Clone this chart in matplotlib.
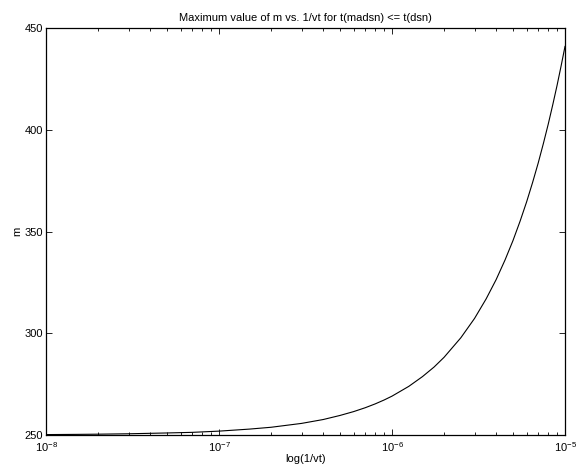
import matplotlib.pyplot as plt
import numpy as np

plt.rcParams['font.family'] = ['Liberation Sans', 'DejaVu Sans']
plt.rcParams['mathtext.fontset'] = 'custom'
plt.rcParams['mathtext.rm'] = 'Liberation Sans'

# 1/vt values and the maximum m
inv_vt = [1e-8, 1.5e-8, 2e-8, 3e-8, 5e-8, 7e-8, 1e-7, 1.5e-7, 2e-7, 3e-7,
          4e-7, 5e-7, 6e-7, 7e-7, 8e-7, 9e-7, 1e-6, 1.25e-6, 1.5e-6, 1.75e-6,
          2e-6, 2.5e-6, 3e-6, 3.5e-6, 4e-6, 4.5e-6, 5e-6, 5.5e-6, 6e-6,
          6.5e-6, 7e-6, 7.5e-6, 8e-6, 8.5e-6, 9e-6, 9.5e-6, 1e-5]
m_max = [250.2, 250.3, 250.4, 250.6, 251.0, 251.3, 251.9, 252.9, 253.8, 255.7,
         257.6, 259.6, 261.5, 263.4, 265.3, 267.2, 269.1, 273.9, 278.7, 283.4,
         288.2, 297.8, 307.3, 316.9, 326.4, 336.0, 345.5, 355.1, 364.6,
         374.2, 383.7, 393.3, 402.8, 412.4, 421.9, 431.5, 441.0]

y_ticks = [250, 300, 350, 400, 450]

fig = plt.figure(figsize=(5.76, 4.72), dpi=100)
ax = fig.add_axes([0.0799, 0.0784, 0.901, 0.862])

ax.plot(inv_vt, m_max, color='black', linewidth=0.8)
ax.set_xscale('log')
ax.set_xlim(1e-8, 1e-5)
ax.set_ylim(250, 450)
ax.set_yticks(y_ticks)

ax.tick_params(which='both', direction='in', top=True, right=True,
               labelsize=8, width=0.6, pad=2)
ax.tick_params(axis='x', which='major', pad=4)
ax.tick_params(which='major', length=4)
ax.tick_params(which='minor', length=2.5)
for s in ax.spines.values():
    s.set_linewidth(0.9)

ax.set_title('Maximum value of m vs. 1/vt for t(madsn) <= t(dsn)', fontsize=8, pad=5)
ax.set_xlabel('log(1/vt)', fontsize=8, labelpad=0)
ax.set_ylabel('m', fontsize=8, labelpad=2)

fig.savefig('out.png', dpi=100)
